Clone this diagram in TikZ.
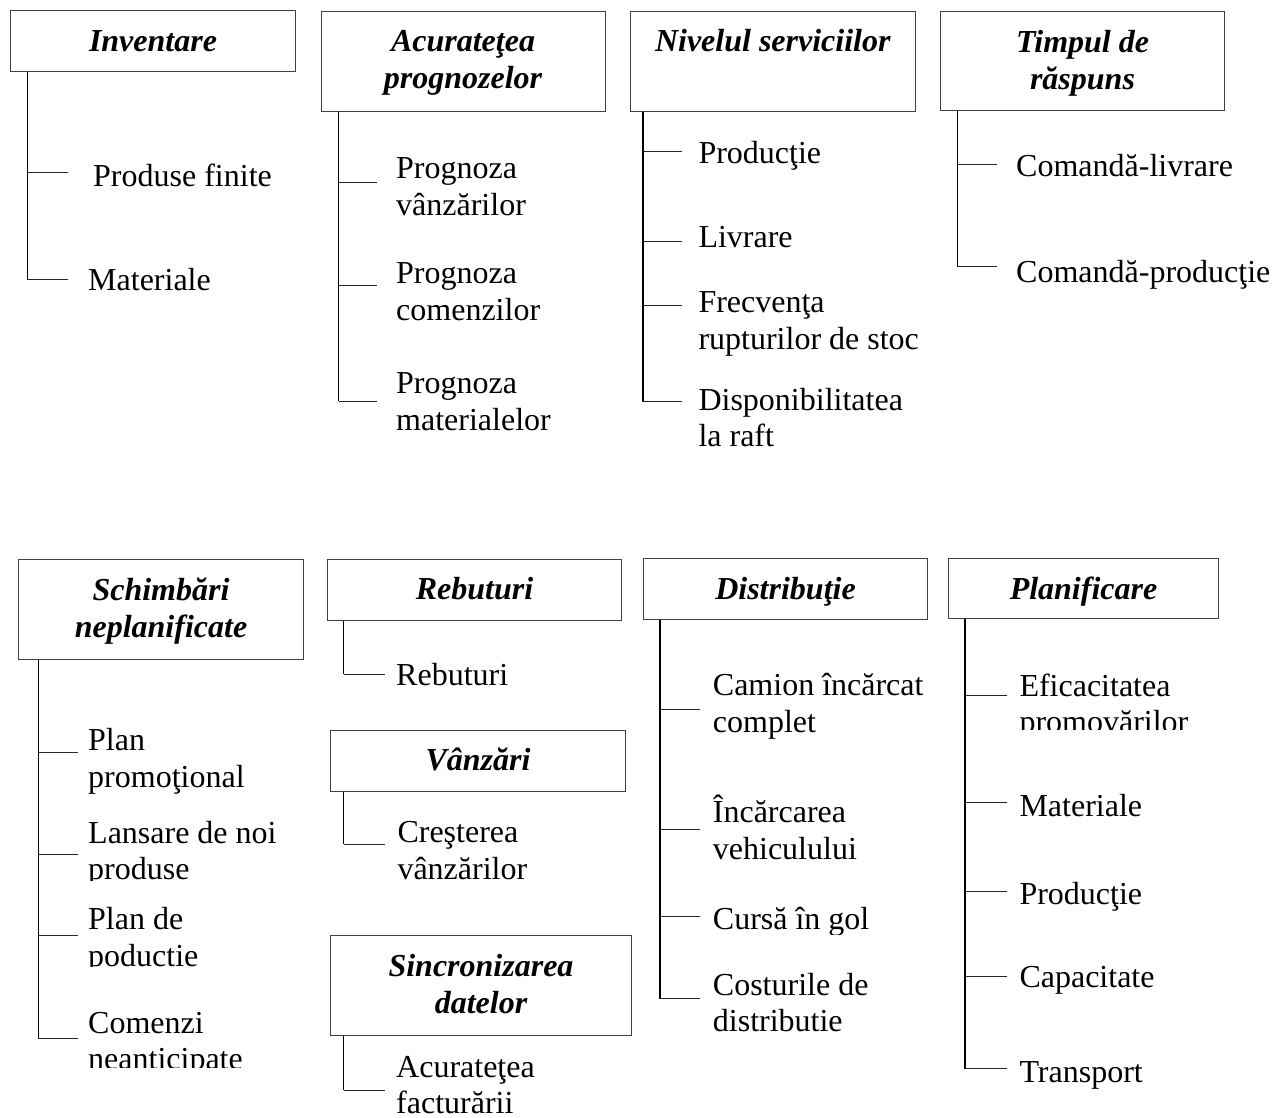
\documentclass[tikz,border=0pt]{standalone}
\usepackage{fontspec}
\setmainfont{Liberation Serif}
\begin{document}
\begin{tikzpicture}[x=1pt,y=-1pt,
  head/.style={draw=black!75, line width=1pt, inner sep=0pt, align=center,
    anchor=north west, text depth=3pt,
    font=\fontsize{32}{37}\selectfont\bfseries\itshape},
  item/.style={anchor=base west, inner sep=0pt, align=left,
    font=\fontsize{32}{36.5}\selectfont},
  % two-line entries: the base anchor sits on the last line, so shift by one line
  two/.style={item, yshift=-36.5pt},
  trunk/.style={line width=1.6pt, black},
  twig/.style={line width=1pt, black!85}]
\useasboundingbox (0,0) rectangle (1273,1117);

% ---------- Inventare ----------
\node[head, text depth=0pt, minimum width=285pt, minimum height=61pt] (inv) at (10,10) {Inventare};
\coordinate (invT) at (27.5,279.5);
\draw[trunk] (inv.south -| invT) -- (invT);
\coordinate (inv1) at (68,172.5);
\coordinate (inv2) at (68,279.5);
\draw[twig] (inv1 -| invT) -- (inv1);
\draw[twig] (inv2 -| invT) -- (inv2);
\node[item] (invA) at (93,186) {Produse finite};
\node[item] (invB) at (88,290) {Materiale};

% ---------- Acurateţea prognozelor ----------
\node[head, minimum width=284pt, minimum height=100pt] (acc) at (320.5,10.5) {Acurateţea\\prognozelor};
\coordinate (accT) at (338.5,401);
\draw[trunk] (acc.south -| accT) -- (accT);
\coordinate (acc1) at (377,182.7);
\coordinate (acc2) at (377,285.7);
\coordinate (acc3) at (377,401);
\foreach \c in {acc1,acc2,acc3} \draw[twig] (\c -| accT) -- (\c);
\node[two] (accA) at (396,178.5) {Prognoza\\vânzărilor};
\node[two] (accB) at (396,283.5) {Prognoza\\comenzilor};
\node[two] (accC) at (396,393.5) {Prognoza\\materialelor};

% ---------- Nivelul serviciilor ----------
\node[head, minimum width=284.5pt, minimum height=100pt] (niv) at (630,10.5) {Nivelul serviciilor\\[2pt]\mbox{}};
\coordinate (nivT) at (642.7,401.7);
\draw[trunk] (niv.south -| nivT) -- (nivT);
\coordinate (niv1) at (681.7,151);
\coordinate (niv2) at (681.7,241);
\coordinate (niv3) at (681.7,305);
\coordinate (niv4) at (681.7,401.7);
\foreach \c in {niv1,niv2,niv3,niv4} \draw[twig] (\c -| nivT) -- (\c);
\node[item] (nivA) at (698.3,163.5) {Producţie};
\node[item] (nivB) at (698.3,247) {Livrare};
\node[two] (nivC) at (698.3,312.5) {Frecvenţa\\rupturilor de stoc};
\node[two] (nivD) at (698.3,410) {Disponibilitatea\\la raft};

% ---------- Timpul de răspuns ----------
\node[head, minimum width=284pt, minimum height=99pt] (tim) at (940,11) {Timpul de\\răspuns};
\coordinate (timT) at (957.5,266.7);
\draw[trunk] (tim.south -| timT) -- (timT);
\coordinate (tim1) at (997,164.3);
\coordinate (tim2) at (997,266.7);
\foreach \c in {tim1,tim2} \draw[twig] (\c -| timT) -- (\c);
\node[item] (timA) at (1016,176) {Comandă-livrare};
\node[item] (timB) at (1016,282) {Comandă-producţie};

% ---------- Schimbări neplanificate ----------
\node[head, minimum width=285pt, minimum height=100pt] (sch) at (18,558.5) {Schimbări\\neplanificate};
\coordinate (schT) at (38.3,1038);
\draw[trunk] (sch.south -| schT) -- (schT);
\coordinate (sch1) at (78,752.7);
\coordinate (sch2) at (78,854);
\coordinate (sch3) at (78,935);
\coordinate (sch4) at (78,1038);
\foreach \c in {sch1,sch2,sch3,sch4} \draw[twig] (\c -| schT) -- (\c);
\node[two] (schA) at (88,750.5) {Plan\\promoţional};
\begin{scope}
  \clip (80,800) rectangle (320,880.5);
  \node[two] (schB) at (88,843) {Lansare de noi\\produse};
\end{scope}
\begin{scope}
  \clip (80,890) rectangle (320,966);
  \node[two] (schC) at (88,929.5) {Plan de\\poductie};
\end{scope}
\begin{scope}
  \clip (80,985) rectangle (320,1067);
  \node[two] (schD) at (88,1033) {Comenzi\\neanticipate};
\end{scope}

% ---------- Rebuturi ----------
\node[head, minimum width=294pt, minimum height=61pt] (reb) at (327,558.5) {Rebuturi};
\coordinate (rebT) at (343.5,674);
\draw[trunk] (reb.south -| rebT) -- (rebT);
\coordinate (reb1) at (384.5,674);
\draw[twig] (rebT) -- (reb1);
\node[item] (rebA) at (396,685) {Rebuturi};

% ---------- Vânzări ----------
\node[head, minimum width=295pt, minimum height=61pt] (van) at (330,730) {Vânzări};
\coordinate (vanT) at (343.5,844);
\draw[trunk] (van.south -| vanT) -- (vanT);
\coordinate (van1) at (385,844);
\draw[twig] (vanT) -- (van1);
\node[two] (vanA) at (397.3,842.5) {Creşterea\\vânzărilor};

% ---------- Sincronizarea datelor ----------
\node[head, minimum width=301pt, minimum height=100pt] (sin) at (330,935) {Sincronizarea\\datelor};
\coordinate (sinT) at (343.5,1090);
\draw[trunk] (sin.south -| sinT) -- (sinT);
\coordinate (sin1) at (385,1090);
\draw[twig] (sinT) -- (sin1);
\node[two] (sinA) at (396,1077) {Acurateţea\\facturării};

% ---------- Distribuţie ----------
\node[head, text depth=1.5pt, minimum width=284pt, minimum height=61pt] (dis) at (643,558) {Distribuţie};
\coordinate (disT) at (660,998.5);
\draw[trunk] (dis.south -| disT) -- (disT);
\coordinate (dis1) at (699.5,709);
\coordinate (dis2) at (699.5,829.3);
\coordinate (dis3) at (699.5,916);
\coordinate (dis4) at (699.5,998.5);
\foreach \c in {dis1,dis2,dis3,dis4} \draw[twig] (\c -| disT) -- (\c);
\node[two] (disA) at (712.7,695.5) {Camion încărcat\\complet};
\node[two] (disB) at (712.7,822.5) {Încărcarea\\vehiculului};
\begin{scope}
  \clip (705,880) rectangle (940,934);
  \node[item] (disC) at (712.7,929.5) {Cursă în gol};
\end{scope}
\node[two] (disD) at (712.7,995) {Costurile de\\distributie};

% ---------- Planificare ----------
\node[head, text depth=1.5pt, minimum width=270pt, minimum height=60pt] (pla) at (948,558) {Planificare};
\coordinate (plaT) at (965,1068.6);
\draw[trunk] (pla.south -| plaT) -- (plaT);
\coordinate (pla1) at (1007,695.9);
\coordinate (pla2) at (1007,802.6);
\coordinate (pla3) at (1007,891.2);
\coordinate (pla4) at (1007,976.7);
\coordinate (pla5) at (1007,1068.6);
\foreach \c in {pla1,pla2,pla3,pla4,pla5} \draw[twig] (\c -| plaT) -- (\c);
\begin{scope}
  \clip (1010,640) rectangle (1273,729);
  \node[two] (plaA) at (1019.3,696) {Eficacitatea\\promovărilor};
\end{scope}
\node[item] (plaB) at (1019.3,816) {Materiale};
\node[item] (plaC) at (1019.3,904) {Producţie};
\node[item] (plaD) at (1019.3,987) {Capacitate};
\node[item] (plaE) at (1019.3,1082) {Transport};
\end{tikzpicture}
\end{document}
